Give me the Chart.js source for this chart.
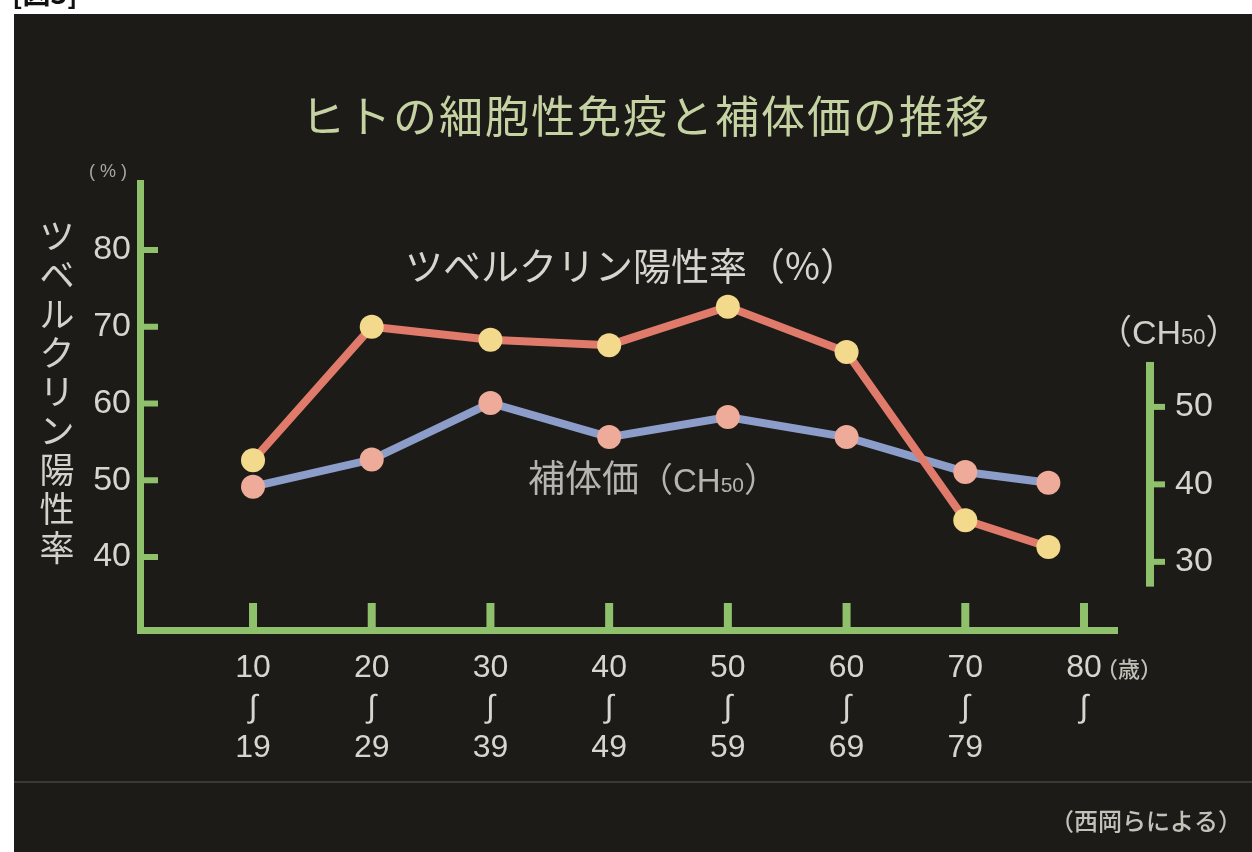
<!DOCTYPE html>
<html lang="ja">
<head>
<meta charset="UTF-8" />
<title>ヒトの細胞性免疫と補体価の推移</title>
<script src="https://cdn.jsdelivr.net/npm/chart.js"></script>
<style>
  * {
    margin: 0;
    padding: 0;
    box-sizing: border-box;
  }

  body {
    width: 1252px;
    height: 852px;
    background: #ffffff;
    overflow: hidden;
    position: relative;
  }

  .panel {
    position: absolute;
    left: 14px;
    top: 14px;
    right: 0;
    bottom: 0;
    background: #1c1b18;
  }

  #immuneChart {
    position: absolute;
    left: 0;
    top: 0;
  }
</style>
</head>
<body>

<div class="panel"></div>
<canvas id="immuneChart" width="1252" height="852"></canvas>

<script>
  // age groups (x axis)
  const ageTicks = [10, 20, 30, 40, 50, 60, 70, 80];
  const ageLabels = [
    ['10', '∫', '19'], ['20', '∫', '29'], ['30', '∫', '39'], ['40', '∫', '49'],
    ['50', '∫', '59'], ['60', '∫', '69'], ['70', '∫', '79'], ['80', '∫']
  ];
  const agePoints = [10, 20, 30, 40, 50, 60, 70, 77];

  // ツベルクリン陽性率 (%) - left axis
  const tuberculinRate = [52.6, 70.0, 68.3, 67.6, 72.6, 66.7, 44.8, 41.3];
  // 補体価 (CH50) - right axis
  const complementCH50 = [39.7, 43.2, 50.5, 46.1, 48.7, 46.1, 41.6, 40.2];

  const leftTicks = [40, 50, 60, 70, 80];
  const rightTicks = [30, 40, 50];

  const GREEN = '#8fc06b';
  const LABEL = '#d6d6ce';
  const JP = '"Noto Sans CJK JP", sans-serif';
  const NUM = '"Liberation Sans", Arial, sans-serif';

  function drawRuns(ctx, runs, x, y, color) {
    ctx.fillStyle = color;
    ctx.textAlign = 'left';
    ctx.textBaseline = 'alphabetic';
    runs.forEach(([text, font]) => {
      ctx.font = font;
      ctx.fillText(text, x, y);
      x += ctx.measureText(text).width;
    });
  }

  // axis stubs, the short right-hand axis and all the captions
  const decor = {
    id: 'decor',
    beforeDatasetsDraw(chart) {
      const { ctx, chartArea, scales: { x, y, y1 } } = chart;
      ctx.save();
      ctx.fillStyle = GREEN;

      ageTicks.forEach(v => {
        const px = x.getPixelForValue(v);
        ctx.fillRect(px - 4, chartArea.bottom - 27, 8, 27);
      });

      leftTicks.forEach(v => {
        const py = y.getPixelForValue(v);
        ctx.fillRect(chartArea.left, py - 3, 18, 6);
      });

      const ax = chartArea.right + 33;
      const top = y1.getPixelForValue(55.8);
      const bottom = y1.getPixelForValue(26.8);
      ctx.fillRect(ax - 4, top, 8, bottom - top);
      rightTicks.forEach(v => {
        const py = y1.getPixelForValue(v);
        ctx.fillRect(ax, py - 3, 15, 6);
      });
      ctx.restore();
    },
    afterDraw(chart) {
      const { ctx } = chart;
      ctx.save();

      // figure number, mostly cut off at the top edge
      ctx.fillStyle = '#111';
      ctx.font = 'bold 28px ' + JP;
      ctx.textAlign = 'left';
      ctx.textBaseline = 'bottom';
      ctx.fillText('[図3]', 12, 7);

      // separator above the source note
      ctx.fillStyle = '#3a3934';
      ctx.fillRect(14, 781, 1238, 2);

      ctx.textBaseline = 'middle';
      ctx.textAlign = 'center';
      ctx.fillStyle = '#c5d3a3';
      ctx.font = '44px ' + JP;
      ctx.letterSpacing = '2px';
      ctx.fillText('ヒトの細胞性免疫と補体価の推移', 646, 116);
      ctx.letterSpacing = '0px';

      ctx.fillStyle = LABEL;
      ctx.font = '38px ' + JP;
      ctx.textAlign = 'left';
      ctx.fillText('ツベルクリン陽性率（%）', 405, 266);

      // vertical axis title
      ctx.textAlign = 'center';
      ctx.font = '35px ' + JP;
      ctx.fillStyle = '#d2d2ca';
      [...'ツベルクリン陽性率'].forEach((ch, i) => {
        ctx.fillText(ch, 57, 236 + i * 39);
      });

      ctx.fillStyle = '#a8a8a2';
      ctx.font = '18px ' + NUM;
      ctx.fillText('( % )', 108, 172);

      ctx.font = '500 22px ' + JP;
      ctx.textAlign = 'left';
      ctx.fillStyle = '#c0c0b8';
      ctx.fillText('（歳）', 1096, 669);

      ctx.font = '500 24px ' + JP;
      ctx.fillStyle = '#c2c2ba';
      ctx.fillText('（西岡らによる）', 1050, 821);

      drawRuns(ctx, [
        ['補体価', '37px ' + JP],
        ['（', '34px ' + JP],
        ['CH', '33px ' + NUM],
        ['50', '21px ' + NUM],
        ['）', '34px ' + JP]
      ], 528, 492, '#b4b4b0');

      drawRuns(ctx, [
        ['（', '34px ' + JP],
        ['CH', '34px ' + NUM],
        ['50', '22px ' + NUM],
        ['）', '34px ' + JP]
      ], 1098, 344, '#d0d0c8');

      ctx.restore();
    }
  };

  const ctx = document.getElementById('immuneChart').getContext('2d');

  const immuneChart = new Chart(ctx, {
    type: 'line',
    data: {
      datasets: [
        {
          label: 'ツベルクリン陽性率',
          data: agePoints.map((a, i) => ({ x: a, y: tuberculinRate[i] })),
          yAxisID: 'y',
          borderColor: '#e07b6b',
          borderWidth: 8,
          pointRadius: 12,
          pointBackgroundColor: '#f3d98c',
          pointBorderWidth: 0,
          tension: 0,
          order: 0
        },
        {
          label: '補体価（CH50）',
          data: agePoints.map((a, i) => ({ x: a, y: complementCH50[i] })),
          yAxisID: 'y1',
          borderColor: '#8d9dca',
          borderWidth: 8,
          pointRadius: 12,
          pointBackgroundColor: '#eeab99',
          pointBorderWidth: 0,
          tension: 0,
          order: 1
        }
      ]
    },
    options: {
      responsive: false,
      animation: false,
      layout: { padding: { top: 183, left: 0, right: 0, bottom: 0 } },
      plugins: {
        legend: { display: false },
        tooltip: { enabled: false }
      },
      scales: {
        x: {
          type: 'linear',
          min: 0.48,
          max: 82.78,
          afterBuildTicks: s => { s.ticks = ageTicks.map(v => ({ value: v })); },
          afterFit: s => { s.height = 222; },
          grid: { display: false, drawTicks: false },
          border: { display: true, color: GREEN, width: 7 },
          ticks: {
            padding: 18,
            color: LABEL,
            font: { family: NUM, size: 32, lineHeight: 1.25 },
            callback: v => ageLabels[ageTicks.indexOf(v)]
          }
        },
        y: {
          position: 'left',
          min: 30.49,
          max: 88.73,
          afterBuildTicks: s => { s.ticks = leftTicks.map(v => ({ value: v })); },
          afterFit: s => { s.width = 140; },
          grid: { display: false, drawTicks: false },
          border: { display: true, color: GREEN, width: 7 },
          ticks: {
            padding: 9,
            color: LABEL,
            font: { family: NUM, size: 34 }
          }
        },
        y1: {
          position: 'right',
          min: 21.2,
          max: 78.9,
          afterBuildTicks: s => { s.ticks = rightTicks.map(v => ({ value: v })); },
          afterFit: s => { s.width = 135; },
          grid: { display: false, drawTicks: false },
          border: { display: false },
          ticks: {
            padding: 58,
            color: LABEL,
            font: { family: NUM, size: 34 }
          }
        }
      }
    },
    plugins: [decor]
  });
</script>

</body>
</html>
